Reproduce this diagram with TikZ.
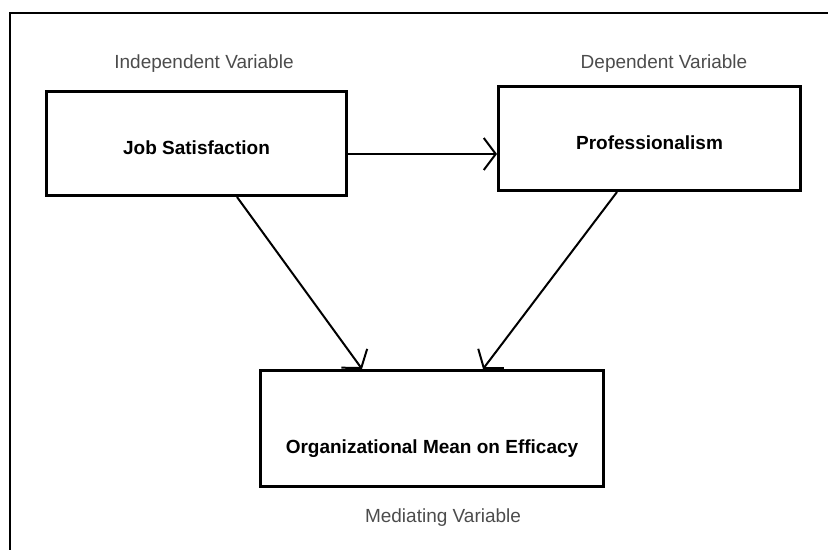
\documentclass[tikz,border=0pt]{standalone}
\usepackage{fontspec}
\setmainfont{Liberation Sans}
\usetikzlibrary{positioning,arrows.meta}

\begin{document}
\begin{tikzpicture}[
  x=0.5pt, y=-0.5pt,
  every node/.style={font=\fontsize{9.5pt}{11pt}\selectfont},
  block/.style={rectangle, draw, line width=1.5pt, align=center,
                minimum height=52pt, text height=11pt, text depth=0pt,
                font=\fontsize{9.5pt}{11pt}\selectfont\bfseries},
  varlabel/.style={inner sep=0pt, text=black!70},
  arrow/.style={-{Straight Barb[length=6pt,width=16pt]}, line width=1pt},
  frame/.style={line width=1.2pt}
]

\useasboundingbox (0,0) rectangle (828,550);
\draw[frame] (828,13) -- (10,13) -- (10,550);

\node[block, minimum width=150pt] (job) at (196.5,143.5) {Job Satisfaction};
\node[block, minimum width=151pt, right=74.5pt of job, yshift=2.5pt] (prof) {Professionalism};
\node[block, minimum width=171.5pt, minimum height=58pt,
      text height=25.3pt] (mediating) at (432,428.5)
      {Organizational Mean on Efficacy};

\node[varlabel, above=8.8pt of job, xshift=3.75pt] (indep) {Independent Variable};
\node[varlabel, above=6.3pt of prof, xshift=7.25pt] (dep) {Dependent Variable};
\node[varlabel, below=10.2pt of mediating, xshift=5.5pt] (med) {Mediating Variable};

\draw[arrow] ([yshift=-5.25pt]job.east) -- ([yshift=-5.25pt]job.east -| prof.west);
\draw[arrow] ([xshift=20.25pt]job.south) -- ([xshift=-35pt]mediating.north);
\draw[arrow] ([xshift=-16.25pt]prof.south) -- ([xshift=25.5pt]mediating.north);

\end{tikzpicture}
\end{document}
